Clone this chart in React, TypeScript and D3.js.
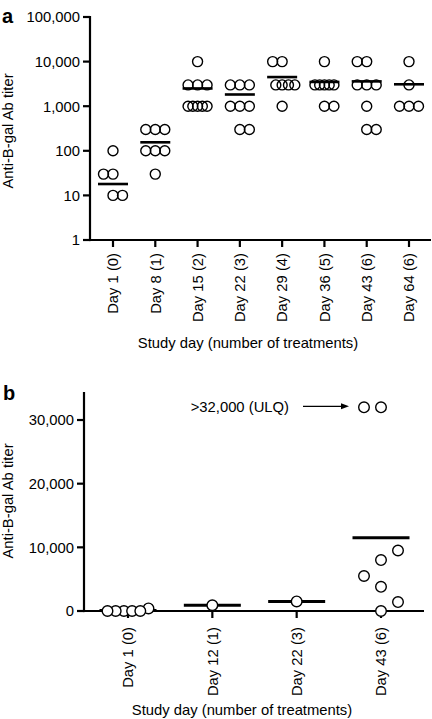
import React from 'react';
import * as d3 from 'd3';

// ---------- Panel a data ----------
const catsA = ['Day 1 (0)', 'Day 8 (1)', 'Day 15 (2)', 'Day 22 (3)', 'Day 29 (4)', 'Day 36 (5)', 'Day 43 (6)', 'Day 64 (6)'];
const titersA: number[][] = [
  [100, 30, 30, 10, 10],
  [300, 300, 300, 100, 100, 100, 30],
  [10000, 3000, 3000, 3000, 1000, 1000, 1000, 1000, 1000],
  [3000, 3000, 3000, 1000, 1000, 1000, 300, 300],
  [10000, 10000, 3000, 3000, 3000, 3000, 1000],
  [10000, 3000, 3000, 3000, 3000, 3000, 1000, 1000],
  [10000, 10000, 3000, 3000, 3000, 1000, 300, 300],
  [10000, 3000, 1000, 1000, 1000],
];
const meansA = [18, 155, 2500, 1830, 4500, 3500, 3600, 3100];
const ticksA = [1, 10, 100, 1000, 10000, 100000];

// ---------- Panel b data ----------
const catsB = ['Day 1 (0)', 'Day 12 (1)', 'Day 22 (3)', 'Day 43 (6)'];
const titersB: number[][] = [
  [0, 0, 0, 400, 0, 0],
  [900],
  [1500],
  [32000, 32000, 9500, 8000, 5500, 3800, 1400, 0],
];
const meansB = [70, 900, 1500, 11500];
const ticksB = [0, 10000, 20000, 30000];
const ulqValue = 32000;

const yTitle = 'Anti-B-gal Ab titer';
const xTitle = 'Study day (number of treatments)';

function swarm(values: number[], y: (v: number) => number, stepMax: number, spanMax: number, rowTol: number) {
  const pts = values.map((v, i) => ({ v, i, py: y(v) })).sort((a, b) => b.py - a.py);
  const placed: { x: number; y: number }[] = [];
  const out: number[] = new Array(values.length).fill(0);
  let sign = 1;
  let singleRow = true;
  for (const p of pts) {
    const n = pts.filter(q => Math.abs(q.py - p.py) <= rowTol).length;
    if (n !== pts.length) singleRow = false;
    const s = n > 1 ? Math.min(stepMax, spanMax / (n - 1)) : stepMax;
    const minD = Math.min(12, s) - 0.01;
    let off = 0;
    for (let k = 0; k < 30; k++) {
      const cands = k === 0 ? [0] : [sign * k * s, -sign * k * s];
      let found: number | null = null;
      for (const c of cands) {
        if (placed.every(q => Math.hypot(q.x - c, q.y - p.py) >= minD)) { found = c; break; }
      }
      if (found !== null) {
        off = found;
        if (found !== 0) sign = found > 0 ? -1 : 1;
        break;
      }
    }
    placed.push({ x: off, y: p.py });
    out[p.i] = off;
  }
  if (singleRow && pts.length > 2) {
    const mid = ((d3.min(out) as number) + (d3.max(out) as number)) / 2;
    return out.map(o => o - mid);
  }
  return out;
}

export default function App() {
  const W = 432, H = 719;
  const font = "'Liberation Sans', Arial, Helvetica, sans-serif";
  const fs = 14.8;
  const fmt = d3.format(',');

  // Panel a geometry
  const aLeft = 90, aRight = 431, aTop = 17, aBottom = 240;
  const yA = d3.scaleLog().domain([1, 100000]).range([aBottom, aTop]);
  const xA = d3.scalePoint<string>().domain(catsA).range([113, 409]);

  // Panel b geometry
  const bLeft = 84, bRight = 424, bTop = 392, bBottom = 611;
  const yB = d3.scaleLinear().domain([0, 34400]).range([bBottom, bTop]);
  const xB = d3.scalePoint<string>().domain(catsB).range([128, 381]);

  const r = 5;
  const sw = 1.4;
  const axW = 2.2;

  const ulqY = yB(ulqValue);
  const tipX = (xB(catsB[3]) as number) - 32;

  return (
    <svg width={W} height={H} style={{ position: 'absolute', left: 0, top: 0, background: '#fff' }}
      fontFamily={font} fontSize={fs}>
      <rect x={0} y={0} width={W} height={H} fill="#fff" />

      {/* ===== Panel a ===== */}
      <text x={2} y={23} fontSize={20} fontWeight="bold">a</text>
      <line x1={aLeft} x2={aLeft} y1={aTop - 1} y2={aBottom + axW / 2} stroke="#000" strokeWidth={axW} />
      <line x1={aLeft} x2={aRight} y1={aBottom} y2={aBottom} stroke="#000" strokeWidth={axW} />
      {ticksA.map(t => (
        <g key={t}>
          <line x1={aLeft - 7} x2={aLeft} y1={yA(t)} y2={yA(t)} stroke="#000" strokeWidth={axW} />
          <text x={aLeft - 10} y={yA(t)} dy="0.36em" textAnchor="end">{fmt(t)}</text>
        </g>
      ))}
      {catsA.map(c => {
        const x = xA(c) as number;
        return (
          <g key={c}>
            <line x1={x} x2={x} y1={aBottom} y2={aBottom + 7} stroke="#000" strokeWidth={axW} />
            <text transform={`translate(${x},${aBottom + 13}) rotate(-90)`} dy="0.36em" textAnchor="end">{c}</text>
          </g>
        );
      })}
      <text transform={`translate(13,131) rotate(-90)`} textAnchor="middle">{yTitle}</text>
      <text x={248} y={348} textAnchor="middle">{xTitle}</text>

      {catsA.map((c, ci) => {
        const cx = xA(c) as number;
        const offs = swarm(titersA[ci], v => yA(v), 9.5, 19, 4);
        return (
          <g key={c}>
            {titersA[ci].map((v, i) => (
              <circle key={i} cx={cx + offs[i]} cy={yA(v)} r={r} fill="none" stroke="#000" strokeWidth={sw} />
            ))}
            <line x1={cx - 15} x2={cx + 15} y1={yA(meansA[ci])} y2={yA(meansA[ci])} stroke="#000" strokeWidth={2.6} />
          </g>
        );
      })}

      {/* ===== Panel b ===== */}
      <text x={3} y={400} fontSize={20} fontWeight="bold">b</text>
      <line x1={bLeft} x2={bLeft} y1={bTop} y2={bBottom + axW / 2} stroke="#000" strokeWidth={axW} />
      <line x1={bLeft} x2={bRight} y1={bBottom} y2={bBottom} stroke="#000" strokeWidth={axW} />
      {ticksB.map(t => (
        <g key={t}>
          <line x1={bLeft - 7} x2={bLeft} y1={yB(t)} y2={yB(t)} stroke="#000" strokeWidth={axW} />
          <text x={bLeft - 10} y={yB(t)} dy="0.36em" textAnchor="end">{fmt(t)}</text>
        </g>
      ))}
      {catsB.map(c => {
        const x = xB(c) as number;
        return (
          <g key={c}>
            <line x1={x} x2={x} y1={bBottom} y2={bBottom + 7} stroke="#000" strokeWidth={axW} />
            <text transform={`translate(${x},${bBottom + 16}) rotate(-90)`} dy="0.36em" textAnchor="end">{c}</text>
          </g>
        );
      })}
      <text transform={`translate(13,501) rotate(-90)`} textAnchor="middle">{yTitle}</text>
      <text x={242} y={715} textAnchor="middle">{xTitle}</text>

      {catsB.map((c, ci) => {
        const cx = xB(c) as number;
        return (
          <line key={c} x1={cx - 28.5} x2={cx + 28.5} y1={yB(meansB[ci])} y2={yB(meansB[ci])} stroke="#000" strokeWidth={3} />
        );
      })}
      {catsB.map((c, ci) => {
        const cx = xB(c) as number;
        const offs = swarm(titersB[ci], v => yB(v), 17, 41, 4);
        return (
          <g key={c}>
            {titersB[ci].map((v, i) => (
              <circle key={i} cx={cx + offs[i]} cy={yB(v)} r={r + 0.3} fill="#fff" stroke="#000" strokeWidth={sw} />
            ))}
          </g>
        );
      })}

      {/* ULQ annotation */}
      <text x={tipX - 60} y={ulqY + 5} textAnchor="end">{'>32,000 (ULQ)'}</text>
      <line x1={tipX - 46} x2={tipX - 6} y1={ulqY - 1} y2={ulqY - 1} stroke="#000" strokeWidth={1.2} />
      <path d={`M${tipX},${ulqY - 1} L${tipX - 8},${ulqY - 4} L${tipX - 8},${ulqY + 2} Z`} fill="#000" />
    </svg>
  );
}
